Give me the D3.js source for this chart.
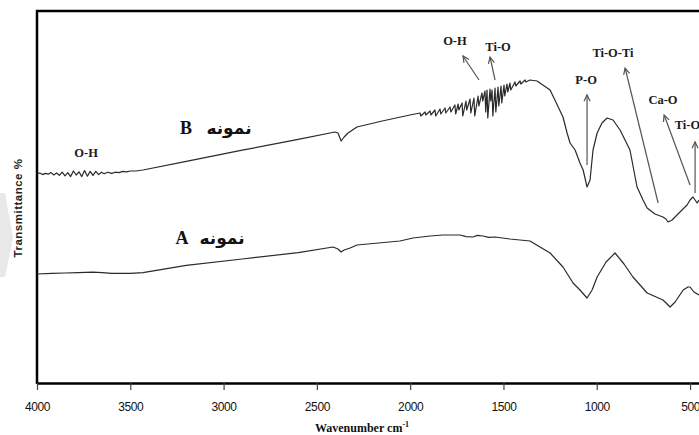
<!DOCTYPE html>
<html>
<head>
<meta charset="utf-8">
<script src="https://cdn.jsdelivr.net/npm/d3@7"></script>
<style>
  html, body { margin: 0; padding: 0; background: #fff; }
  svg { display: block; }
</style>
</head>
<body>
<svg id="chart" width="699" height="435"></svg>
<script>
// ---- Data (wavenumber cm-1, transmittance in arbitrary %) ----
const xTicks = [4000, 3500, 3000, 2500, 2000, 1500, 1000, 500];

const sampleB = [
  [4000,52.3],[3985,52.5],[3970,52.1],[3955,52.4],[3940,52.2],[3925,52.6],[3910,52.0],[3895,52.5],
  [3880,51.9],[3865,52.7],[3850,51.8],[3835,52.6],[3820,51.6],[3805,53.0],[3790,52.0],[3775,52.8],
  [3760,51.6],[3745,53.1],[3730,51.7],[3715,52.9],[3700,51.9],[3685,52.9],[3670,52.1],[3655,52.7],
  [3640,52.3],[3620,52.7],[3600,52.4],[3580,52.7],[3560,52.6],[3540,52.9],[3520,52.8],[3500,53.0],
  [3470,53.0],[3432,53.25],[3200,55.4],[2900,58.2],[2600,60.9],[2403,62.75],[2387,62.5],[2370,60.5],
  [2354,61.5],[2333,62.5],[2285,64.0],[2150,65.5],[2001,67.0],
  [1947,67.5],[1943,66.75],[1920,67.75],[1916,67.0],[1893,68.0],[1889,67.0],[1867,68.25],[1863,66.75],
  [1840,68.5],[1836,67.25],[1813,68.75],[1809,67.5],[1786,69.0],[1782,67.75],[1760,69.5],[1756,67.25],
  [1743,69.75],[1739,68.25],[1722,70.0],[1718,66.75],[1701,70.5],[1697,68.25],[1679,71.0],[1675,67.5],
  [1658,71.25],[1654,66.75],[1636,71.75],[1632,69.25],[1615,72.5],[1611,70.5],[1599,73.0],[1595,67.75],
  [1588,73.25],[1584,66.25],[1572,73.5],[1568,70.5],[1561,73.25],[1557,66.75],[1545,73.75],[1541,67.75],
  [1529,74.0],[1525,69.25],[1513,74.25],[1509,70.0],[1497,74.5],[1493,71.75],[1481,74.75],[1477,72.75],
  [1465,75.0],[1461,73.25],[1438,75.25],[1434,74.25],[1411,75.5],[1407,74.75],[1384,75.75],[1380,75.25],
  [1358,75.75],[1320,75.5],[1250,73.25],[1181,66.5],[1159,62.5],[1143,60.0],[1116,58.25],[1090,55.0],
  [1073,53.25],[1052,49.0],[1036,50.75],[1020,58.25],[998,62.5],[972,65.0],[945,66.25],[913,65.75],
  [875,63.25],[822,58.25],[784,49.0],[752,45.75],[730,43.75],[688,42.25],[645,41.5],[629,41.0],
  [618,40.25],[596,40.75],[570,42.0],[516,44.5],[500,45.75],[484,46.5],[462,45.0],[452,45.75]
];

const sampleA = [
  [4000,27.25],[3920,27.4],[3850,27.5],[3780,27.6],[3700,27.7],[3650,27.6],[3600,27.4],[3500,27.4],
  [3432,27.6],[3200,29.4],[2900,31.0],[2600,32.6],[2413,34.0],[2387,33.5],[2370,32.75],[2354,33.25],
  [2322,33.75],[2285,34.5],[2055,35.5],[1985,36.25],[1893,36.75],[1824,37.0],[1733,37.0],[1700,36.6],
  [1663,36.5],[1640,36.9],[1609,36.75],[1580,36.4],[1545,36.5],[1465,36.0],[1358,35.5],[1250,32.5],
  [1181,29.0],[1127,25.0],[1090,23.25],[1052,21.25],[1025,23.25],[998,26.5],[950,30.25],[902,32.5],
  [854,29.75],[806,26.5],[730,22.5],[645,20.75],[623,19.75],[607,19.0],[580,20.25],[537,23.25],
  [511,24.0],[500,24.0],[479,22.75],[452,22.0]
];

// band annotations: label, label position, arrow tail, arrow head
const bandLabels = ["O-H", "Ti-O", "P-O", "Ti-O-Ti", "Ca-O", "Ti-O"];
const bandLabelPos = [[1760,85.5],[1529,84.0],[1057,75.75],[913,82.5],[645,70.75],[582,64.5]];
const bandLabelAnchor = ["middle","middle","middle","middle","middle","start"];
const arrowTail = [[1631,75.75],[1545,75.75],[1052,54.5],[671,45.0],[500,49.5],[473,47.5]];
const arrowHead = [[1717,81.75],[1572,81.5],[1052,72.0],[848,78.75],[639,67.0],[473,60.25]];

const leftOHLabel = ["O-H", 3737, 57.5];
const sampleNames = [["B", 3201, 63.75, 2971], ["A", 3223, 36.25, 3008]];
const sampleWord = "نمونه";

// ---- Layout ----
const svg = d3.select("#chart");
const mLeft = 37, mRight = 699, mTop = 11, mBottom = 383;

const x = d3.scaleLinear().domain([4000, 452]).range([mLeft, mRight]);
const y = d3.scaleLinear().domain([0, 93]).range([mBottom, mTop]);

// faint watermark scrap at the left edge
svg.append("polygon")
  .attr("points", "0,193 5,193 13,238 5,277 0,277")
  .attr("fill", "#e8e8e8");

// frame (left + top), bottom axis
svg.append("line").attr("x1", mLeft).attr("x2", mLeft).attr("y1", mTop - 1).attr("y2", mBottom + 1)
  .attr("stroke", "#000").attr("stroke-width", 2.5);
svg.append("line").attr("x1", mLeft - 1).attr("x2", mRight).attr("y1", mTop).attr("y2", mTop)
  .attr("stroke", "#000").attr("stroke-width", 2.5);

const xAxis = d3.axisBottom(x).tickValues(xTicks).tickSize(7).tickSizeOuter(0).tickFormat(d3.format("d"));
const gx = svg.append("g").attr("transform", `translate(0,${mBottom})`).call(xAxis);
gx.select(".domain").attr("stroke", "#000").attr("stroke-width", 2.5);
gx.selectAll(".tick line").attr("stroke", "#444").attr("stroke-width", 1.2);
gx.selectAll(".tick text")
  .attr("y", 19)
  .attr("fill", "#111")
  .style("font-family", "'Liberation Sans', Arial, sans-serif")
  .style("font-size", "12px")
  .style("letter-spacing", "-0.4px");

// axis titles
const xt = svg.append("text")
  .attr("x", 362).attr("y", 432)
  .attr("text-anchor", "middle")
  .style("font-family", "'Liberation Serif', 'Times New Roman', serif")
  .style("font-weight", "bold").style("font-size", "12px").attr("fill", "#111");
xt.append("tspan").text("Wavenumber cm");
xt.append("tspan").text("-1").attr("dy", -5).style("font-size", "8px");

svg.append("text")
  .attr("transform", "translate(22,208) rotate(-90)")
  .attr("text-anchor", "middle")
  .style("font-family", "'Liberation Sans', Arial, sans-serif")
  .style("font-weight", "bold").style("font-size", "11.5px")
  .style("letter-spacing", "0.5px")
  .attr("fill", "#222")
  .text("Transmittance %");

// spectra
const line = d3.line().x(d => x(d[0])).y(d => y(d[1]));
[sampleB, sampleA].forEach(s => {
  svg.append("path").datum(s).attr("d", line)
    .attr("fill", "none").attr("stroke", "#2a2a2a").attr("stroke-width", 1.2)
    .attr("stroke-linejoin", "round");
});

// arrows
const headLen = 7, headAng = Math.PI / 7;
bandLabels.forEach((lab, i) => {
  const x1 = x(arrowTail[i][0]), y1 = y(arrowTail[i][1]);
  const x2 = x(arrowHead[i][0]), y2 = y(arrowHead[i][1]);
  svg.append("line").attr("x1", x1).attr("y1", y1).attr("x2", x2).attr("y2", y2)
    .attr("stroke", "#555").attr("stroke-width", 1.2);
  const a = Math.atan2(y2 - y1, x2 - x1);
  const p1 = [x2 - headLen * Math.cos(a - headAng), y2 - headLen * Math.sin(a - headAng)];
  const p2 = [x2 - headLen * Math.cos(a + headAng), y2 - headLen * Math.sin(a + headAng)];
  svg.append("path").attr("d", `M${p1[0]},${p1[1]}L${x2},${y2}L${p2[0]},${p2[1]}`)
    .attr("fill", "none").attr("stroke", "#555").attr("stroke-width", 1.2);
  svg.append("text")
    .attr("x", x(bandLabelPos[i][0])).attr("y", y(bandLabelPos[i][1]))
    .attr("text-anchor", bandLabelAnchor[i]).attr("dominant-baseline", "central")
    .style("font-family", "'Liberation Serif', 'Times New Roman', serif")
    .style("font-weight", "bold").style("font-size", "12.5px").attr("fill", "#1a1a1a")
    .text(lab);
});

svg.append("text")
  .attr("x", x(leftOHLabel[1])).attr("y", y(leftOHLabel[2]))
  .attr("text-anchor", "middle").attr("dominant-baseline", "central")
  .style("font-family", "'Liberation Serif', 'Times New Roman', serif")
  .style("font-weight", "bold").style("font-size", "12.5px").attr("fill", "#1a1a1a")
  .text(leftOHLabel[0]);

// sample names
sampleNames.forEach(s => {
  svg.append("text")
    .attr("x", x(s[1])).attr("y", y(s[2]))
    .attr("text-anchor", "middle").attr("dominant-baseline", "central")
    .style("font-family", "'Liberation Serif', 'Times New Roman', serif")
    .style("font-weight", "bold").style("font-size", "18px").attr("fill", "#111")
    .text(s[0]);
  svg.append("text")
    .attr("x", x(s[3])).attr("y", y(s[2]))
    .attr("text-anchor", "middle").attr("dominant-baseline", "central")
    .attr("direction", "rtl")
    .style("font-family", "'DejaVu Sans', 'Noto Sans', sans-serif")
    .style("font-weight", "bold").style("font-size", "17px").attr("fill", "#111")
    .text(sampleWord);
});
</script>
</body>
</html>
